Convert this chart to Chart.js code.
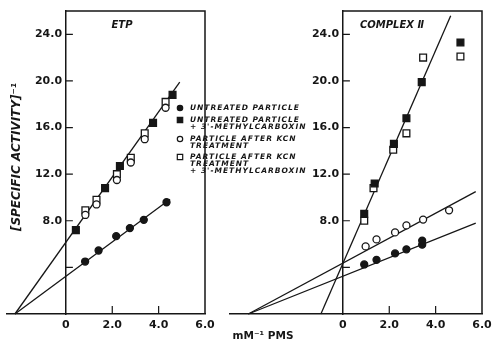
<!DOCTYPE html>
<html>
<head>
<meta charset="utf-8">
<script src="https://cdn.jsdelivr.net/npm/chart.js@4.4.0/dist/chart.umd.min.js"></script>
<style>
  html, body { margin: 0; padding: 0; background: #fff; }
  #wrap { position: relative; width: 492px; height: 346px; }
  #wrap canvas { position: absolute; left: 0; top: 0; }
</style>
</head>
<body>
<div id="wrap">
  <canvas id="etp" width="492" height="346"></canvas>
  <canvas id="cx2" width="492" height="346"></canvas>
</div>
<script>
// tick values (both panels)
const xTickValues = [0, 2, 4, 6];
const yTickValues = [4, 8, 12, 16, 20, 24];
const yMax = 26;

// ETP panel, [mM^-1 PMS, (specific activity)^-1]
const etpUntreated = [[0.83, 4.5], [1.41, 5.45], [2.17, 6.68], [2.76, 7.37], [3.36, 8.08], [4.34, 9.59]];
const etpUntreatedCarb = [[0.43, 7.2], [1.69, 10.8], [2.33, 12.7], [3.76, 16.4], [4.6, 18.8]];
const etpKcn = [[0.84, 8.5], [1.32, 9.4], [2.2, 11.5], [2.8, 13.0], [3.4, 15.0], [4.3, 17.7]];
const etpKcnCarb = [[0.84, 8.9], [1.32, 9.8], [2.2, 12.0], [2.8, 13.4], [3.4, 15.5], [4.3, 18.2]];
const etpLineLow = [[-2.2, 0], [4.49, 9.84]];
const etpLineHigh = [[-2.2, 0], [4.91, 19.9]];

// Complex II panel
const cxUntreated = [[0.92, 4.25], [1.45, 4.65], [2.25, 5.2], [2.74, 5.55], [3.42, 5.95], [3.42, 6.3]];
const cxUntreatedCarb = [[0.92, 8.6], [1.37, 11.2], [2.2, 14.6], [2.74, 16.8], [3.4, 19.9], [5.07, 23.3]];
const cxKcn = [[0.98, 5.8], [1.45, 6.4], [2.25, 7.0], [2.74, 7.6], [3.46, 8.1], [4.58, 8.9]];
const cxKcnCarb = [[0.92, 8.0], [1.32, 10.8], [2.17, 14.1], [2.74, 15.5], [3.46, 22.0], [5.07, 22.1]];
const cxLineLow = [[-4.08, 0], [5.73, 7.8]];
const cxLineMid = [[-4.08, 0], [5.73, 10.5]];
const cxLineSteep = [[-0.95, 0], [4.65, 25.6]];

const ink = '#161616';
const tickFont = { family: 'DejaVu Sans', size: 11, weight: 'bold' };

function pts(arr) {
  return arr.map(([x, y]) => ({ x, y }));
}

function markSet(data, style, filled) {
  return {
    data: pts(data),
    pointStyle: style,
    pointRadius: style === 'rect' ? 4.8 : 3.5,
    pointBorderWidth: 1.3,
    pointBackgroundColor: filled ? ink : '#fff',
    pointBorderColor: ink,
    showLine: false,
    clip: false
  };
}

function fitLine(data) {
  return {
    data: pts(data),
    borderColor: ink,
    borderWidth: 1.3,
    pointRadius: 0,
    showLine: true,
    fill: false,
    clip: false
  };
}

function panelScales(xMin) {
  return {
    x: {
      type: 'linear', min: xMin, max: 6, position: { y: 0 },
      afterBuildTicks: s => { s.ticks = xTickValues.map(v => ({ value: v })); },
      afterFit: s => { s.paddingLeft = 0; s.paddingRight = 0; },
      grid: { color: 'rgba(0,0,0,0)', drawTicks: false },
      border: { color: ink, width: 1.5 },
      ticks: {
        color: ink, font: tickFont, padding: 5, maxRotation: 0, autoSkip: false,
        callback: v => (v === 0 ? '0' : v.toFixed(1))
      }
    },
    y: {
      type: 'linear', min: 0, max: yMax, position: { x: 0 },
      afterBuildTicks: s => { s.ticks = yTickValues.map(v => ({ value: v })); },
      afterFit: s => { s.paddingTop = 0; s.paddingBottom = 0; },
      grid: { color: 'rgba(0,0,0,0)', drawTicks: false },
      border: { color: ink, width: 1.5 },
      ticks: {
        color: ink, font: tickFont, autoSkip: false,
        callback: v => (v === 4 ? '' : v.toFixed(1) + ' ')
      }
    }
  };
}

// box edges, inward tick marks and the panel title
const panelDecor = {
  id: 'panelDecor',
  afterDraw(chart, args, opts) {
    const { ctx, scales: { x, y } } = chart;
    const x0 = x.getPixelForValue(0), x6 = x.getPixelForValue(6);
    const y0 = y.getPixelForValue(0), yTop = y.getPixelForValue(yMax);
    ctx.save();
    ctx.strokeStyle = ink;
    ctx.lineWidth = 1.5;
    ctx.beginPath();
    ctx.moveTo(x0, yTop);
    ctx.lineTo(x6, yTop);
    ctx.lineTo(x6, y0);
    ctx.stroke();
    ctx.lineWidth = 1.2;
    ctx.beginPath();
    yTickValues.forEach(v => {
      const py = y.getPixelForValue(v);
      ctx.moveTo(x0, py);
      ctx.lineTo(x0 + 7, py);
    });
    [2, 4].forEach(v => {
      const px = x.getPixelForValue(v);
      ctx.moveTo(px, y0);
      ctx.lineTo(px, y0 - 8);
    });
    ctx.stroke();
    ctx.fillStyle = ink;
    ctx.font = 'italic bold 10px "DejaVu Sans"';
    ctx.textAlign = 'center';
    ctx.textBaseline = 'middle';
    ctx.fillText(opts.title, opts.titleX, opts.titleY);
    ctx.restore();
  }
};

const legendItems = [
  { style: 'circle', filled: true, lines: ['UNTREATED PARTICLE'] },
  { style: 'rect', filled: true, lines: ['UNTREATED PARTICLE', "+ 3'-METHYLCARBOXIN"] },
  { style: 'circle', filled: false, lines: ['PARTICLE AFTER KCN', 'TREATMENT'] },
  { style: 'rect', filled: false, lines: ['PARTICLE AFTER KCN', 'TREATMENT', "+ 3'-METHYLCARBOXIN"] }
];

// legend, axis titles
const figureText = {
  id: 'figureText',
  afterDraw(chart) {
    const { ctx } = chart;
    ctx.save();
    ctx.fillStyle = ink;
    ctx.strokeStyle = ink;
    ctx.textBaseline = 'middle';
    const rowTops = [108, 120, 139, 157];
    legendItems.forEach((item, i) => {
      const cy = rowTops[i];
      ctx.lineWidth = 1.2;
      ctx.beginPath();
      if (item.style === 'circle') {
        ctx.arc(180, cy, 2.7, 0, Math.PI * 2);
      } else {
        ctx.rect(177.3, cy - 2.7, 5.4, 5.4);
      }
      if (item.filled) ctx.fill();
      ctx.stroke();
      ctx.font = 'italic bold 7.5px "DejaVu Sans"';
      ctx.letterSpacing = '1px';
      ctx.textAlign = 'left';
      item.lines.forEach((line, j) => ctx.fillText(line, 190, cy + j * 7));
      ctx.letterSpacing = '0px';
    });

    ctx.font = 'bold 10.5px "DejaVu Sans"';
    ctx.textAlign = 'center';
    ctx.fillText('mM\u207B\u00B9 PMS', 263, 336);

    ctx.translate(17, 157);
    ctx.rotate(-Math.PI / 2);
    ctx.font = 'italic bold 12px "DejaVu Sans"';
    ctx.fillText('[SPECIFIC ACTIVITY]\u207B\u00B9', 0, 0);
    ctx.restore();
  }
};

function commonOptions(padding, title, titleX) {
  return {
    responsive: false,
    animation: false,
    devicePixelRatio: 1,
    layout: { padding },
    plugins: {
      legend: { display: false },
      tooltip: { enabled: false },
      panelDecor: { title, titleX, titleY: 25 }
    },
    elements: { line: { tension: 0 } }
  };
}

new Chart(document.getElementById('etp'), {
  type: 'scatter',
  data: {
    datasets: [
      markSet(etpUntreated, 'circle', true),
      markSet(etpUntreatedCarb, 'rect', true),
      markSet(etpKcn, 'circle', false),
      markSet(etpKcnCarb, 'rect', false),
      fitLine(etpLineLow),
      fitLine(etpLineHigh)
    ]
  },
  options: Object.assign(commonOptions({ left: 7, right: 287, top: 11, bottom: 32 }, 'ETP', 122),
    { scales: panelScales(-2.54) }),
  plugins: [panelDecor, figureText]
});

new Chart(document.getElementById('cx2'), {
  type: 'scatter',
  data: {
    datasets: [
      markSet(cxUntreated, 'circle', true),
      markSet(cxUntreatedCarb, 'rect', true),
      markSet(cxKcn, 'circle', false),
      markSet(cxKcnCarb, 'rect', false),
      fitLine(cxLineLow),
      fitLine(cxLineMid),
      fitLine(cxLineSteep)
    ]
  },
  options: Object.assign(commonOptions({ left: 230, right: 10, top: 11, bottom: 32 }, 'COMPLEX \u2161', 392),
    { scales: panelScales(-4.87) }),
  plugins: [panelDecor]
});
</script>
</body>
</html>
